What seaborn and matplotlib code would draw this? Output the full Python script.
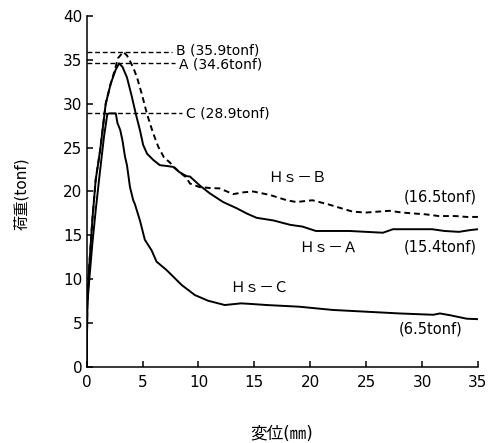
import matplotlib
matplotlib.use("Agg")
import matplotlib.pyplot as plt
import numpy as np
import pandas as pd
import seaborn as sns

# Load-displacement curves of the three specimens (displacement in mm, load in tonf)
disp_A = [0, 0.05, 0.2, 0.5, 0.8, 1.2, 1.7, 2.15, 2.6, 2.9, 3.2, 3.6, 4.0, 4.4, 4.76, 5.05,
          5.4, 5.95, 6.54, 7.2, 7.73, 8.3, 8.93, 9.24, 10.1, 11.0, 12.2, 13.4, 14.3, 15.2,
          16.7, 18.2, 19.3, 20.5, 22.0, 23.5, 25.0, 26.5, 27.4, 29.0, 30.9, 32.0, 33.3,
          34.3, 35.0]
load_A = [0, 7.0, 11.0, 16.7, 21.3, 24.7, 30.0, 32.3, 33.9, 34.6, 34.2, 33.0, 31.0, 28.8,
          27.0, 25.3, 24.3, 23.6, 23.0, 22.9, 22.8, 22.2, 21.75, 21.7, 20.7, 19.8, 18.8,
          18.1, 17.5, 17.0, 16.7, 16.2, 16.0, 15.5, 15.5, 15.5, 15.4, 15.3, 15.7, 15.7,
          15.7, 15.5, 15.4, 15.6, 15.7]

disp_B = [0, 0.05, 0.2, 0.5, 0.8, 1.2, 1.7, 2.15, 2.5, 2.8, 3.27, 3.6, 3.9, 4.2, 4.5,
          4.95, 5.4, 5.9, 6.4, 6.9, 7.44, 7.8, 8.4, 8.9, 9.24, 10.1, 11.0, 11.9, 13.1,
          14.0, 14.9, 16.4, 17.9, 18.75, 20.2, 21.7, 23.0, 23.8, 25.0, 26.0, 27.1, 28.2,
          29.2, 30.3, 31.5, 33.0, 34.0, 35.0]
load_B = [0, 7.0, 11.0, 16.7, 21.3, 24.7, 30.0, 32.3, 33.8, 35.2, 35.9, 35.5, 34.8, 34.0,
          33.0, 31.0, 28.8, 26.8, 25.1, 23.9, 23.3, 22.8, 22.1, 21.6, 20.9, 20.5, 20.4,
          20.35, 19.7, 19.9, 20.0, 19.6, 19.0, 18.8, 19.0, 18.5, 18.0, 17.7, 17.6, 17.7,
          17.8, 17.6, 17.5, 17.4, 17.2, 17.2, 17.1, 17.1]

disp_C = [0, 0.05, 0.2, 0.5, 0.8, 1.1, 1.54, 1.84, 2.0, 2.3, 2.6, 2.75, 3.0, 3.2, 3.42,
          3.6, 3.87, 4.16, 4.3, 4.76, 5.2, 5.8, 6.25, 7.14, 8.5, 9.67, 10.86, 12.35, 13.8,
          14.5, 16.1, 19.0, 22.0, 25.0, 28.0, 30.0, 31.0, 31.6, 32.5, 34.0, 35.0]
load_C = [0, 7.0, 9.5, 14.0, 17.8, 21.3, 26.2, 28.8, 28.9, 28.9, 28.9, 27.8, 27.0, 25.8,
          24.0, 23.0, 20.5, 19.0, 18.6, 16.7, 14.5, 13.3, 12.0, 11.05, 9.34, 8.2, 7.55,
          7.06, 7.25, 7.2, 7.06, 6.87, 6.5, 6.3, 6.1, 6.0, 5.95, 6.1, 5.9, 5.5, 5.45]

specimens = ["Ｈｓ－Ａ", "Ｈｓ－Ｂ", "Ｈｓ－Ｃ"]
peak_letters = ["A", "B", "C"]
residual_loads = [15.4, 16.5, 6.5]

x_ticks = [0, 5, 10, 15, 20, 25, 30, 35]
y_ticks = [0, 5, 10, 15, 20, 25, 30, 35, 40]

df = pd.concat([
    pd.DataFrame({"disp": disp_A, "load": load_A, "specimen": specimens[0]}),
    pd.DataFrame({"disp": disp_B, "load": load_B, "specimen": specimens[1]}),
    pd.DataFrame({"disp": disp_C, "load": load_C, "specimen": specimens[2]}),
], ignore_index=True)

sns.set_theme(style="ticks")
plt.rcParams["font.family"] = ["DejaVu Sans", "Noto Sans CJK JP"]

fig = plt.figure(figsize=(4.88, 4.43), dpi=100)
ax = fig.add_axes([0.1777, 0.1716, 0.8017, 0.7923])

sns.lineplot(data=df, x="disp", y="load", style="specimen",
             dashes={specimens[0]: "", specimens[1]: (3.0, 2.0), specimens[2]: ""},
             color="black", linewidth=1.4, sort=False, estimator=None,
             legend=False, ax=ax)

ax.set_xlim(0, 35)
ax.set_ylim(0, 40)
ax.set_xticks(x_ticks)
ax.set_yticks(y_ticks)
sns.despine(ax=ax)
for side in ("left", "bottom"):
    ax.spines[side].set_linewidth(1.1)
    ax.spines[side].set_color("black")
ax.tick_params(axis="both", direction="in", length=4, width=1.1, colors="black",
               labelsize=11)
ax.tick_params(axis="x", pad=6)
ax.tick_params(axis="y", pad=3)

# Peak-load guide lines and their labels (B and A labels sit slightly apart)
loads = [load_A, load_B, load_C]
line_ends = [7.88, 7.59, 8.48]
label_shift = [-0.15, 0.15, 0.0]
for letter, ld, x_end, dy in zip(peak_letters, loads, line_ends, label_shift):
    peak = max(ld)
    ax.plot([0, x_end], [peak, peak], color="black", linewidth=1.0,
            linestyle=(0, (3.5, 2.0)))
    ax.text(x_end + 0.4, peak + dy, f"{letter} ({peak:.1f}tonf)", fontsize=10,
            ha="left", va="center", color="black")

# Specimen names
name_pos = [(19.0, 13.7), (16.2, 21.6), (12.86, 9.08)]
for name, (tx, ty) in zip(specimens, name_pos):
    ax.text(tx, ty, name, fontsize=10.5, ha="left", va="center", color="black")

# Residual loads
res_pos = [(34.9, 13.7), (34.9, 19.4), (33.6, 4.3)]
for val, (tx, ty) in zip(residual_loads, res_pos):
    ax.text(tx, ty, f"({val:.1f}tonf)", fontsize=10.5, ha="right", va="center",
            color="black")

ax.set_xlabel("変位(㎜)", fontsize=12, color="black")
ax.set_ylabel("荷重(tonf)", fontsize=11, color="black")
ax.xaxis.label.set_va("center")
ax.yaxis.label.set_va("center")
ax.xaxis.set_label_coords(0.499, -0.19)
ax.yaxis.set_label_coords(-0.168, 0.493)

fig.savefig("out.png", dpi=100, facecolor="white")
